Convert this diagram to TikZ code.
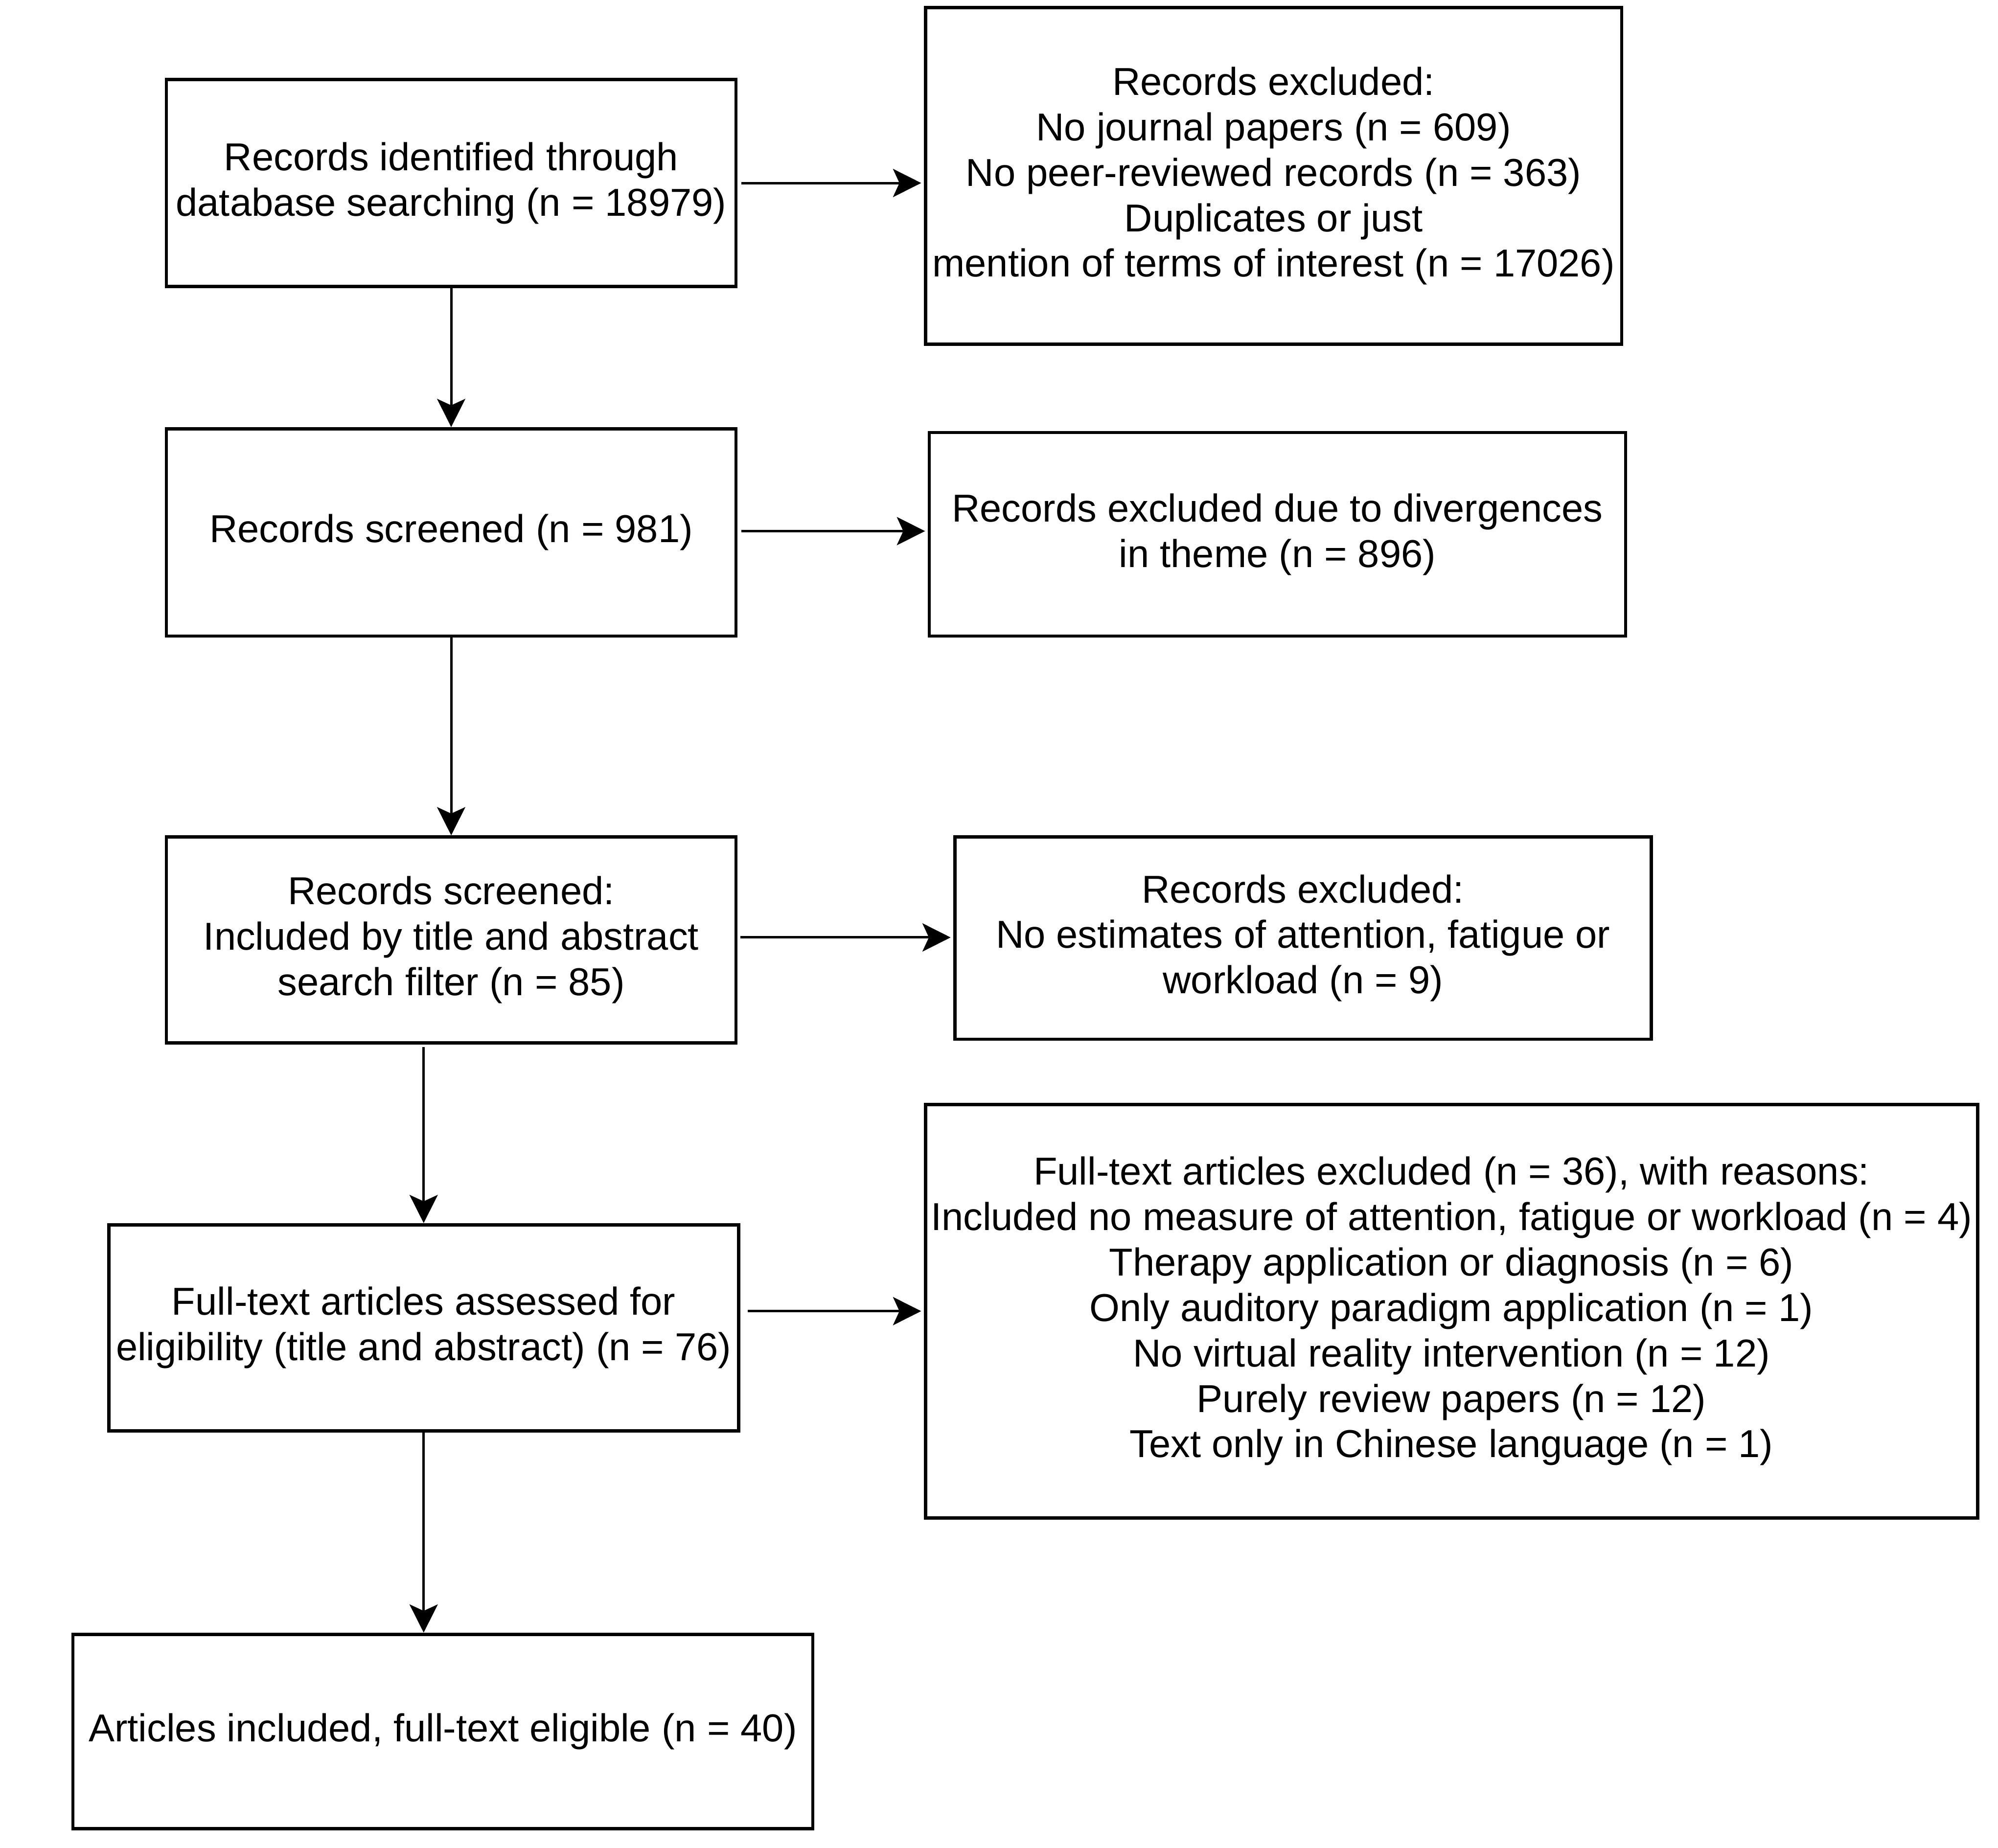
\documentclass[tikz,border=0pt]{standalone}
\usepackage{fontspec}
\setmainfont{Liberation Sans}
\usetikzlibrary{arrows.meta,calc}
\begin{document}
\begin{tikzpicture}[x=0.5pt,y=-0.5pt,
  box/.style={draw=black, line width=1.3pt, rectangle, inner sep=0pt, align=center,
    font=\fontsize{15.2}{17.75}\selectfont},
  conn/.style={line width=0.95pt, -{Stealth[length=11pt,width=11pt,inset=2.5pt]}}]
\useasboundingbox (0,0) rectangle (1561,1444);
\fill[white] (0,0) rectangle (1561,1444);

\node[box, minimum width=222.5pt, minimum height=81pt] (A) at (352.5,143)
  {Records identified through\\database searching (n = 18979)};
\node[box, minimum width=272pt, minimum height=131.5pt] (B) at (995,137.5)
  {Records excluded:\\No journal papers (n = 609)\\No peer-reviewed records (n = 363)\\Duplicates or just\\mention of terms of interest (n = 17026)};
\node[box, minimum width=222.5pt, minimum height=81pt] (C) at (352.5,416)
  {Records screened (n = 981)};
\node[box, minimum width=272pt, minimum height=79.5pt] (D) at (998,417.5)
  {Records excluded due to divergences\\in theme (n = 896)};
\node[box, minimum width=222.5pt, minimum height=80.5pt] (E) at (352.5,734.5)
  {Records screened:\\Included by title and abstract\\search filter (n = 85)};
\node[box, minimum width=272pt, minimum height=79pt] (F) at (1018,733)
  {Records excluded:\\No estimates of attention, fatigue or\\workload (n = 9)};
\node[box, minimum width=246pt, minimum height=80.5pt] (G) at (331,1037.5)
  {Full-text articles assessed for\\eligibility (title and abstract) (n = 76)};
\node[box, minimum width=411pt, minimum height=161.5pt] (H) at (1134,1024.5)
  {Full-text articles excluded (n = 36), with reasons:\\Included no measure of attention, fatigue or workload (n = 4)\\Therapy application or diagnosis (n = 6)\\Only auditory paradigm application (n = 1)\\No virtual reality intervention (n = 12)\\Purely review papers (n = 12)\\Text only in Chinese language (n = 1)};
\node[box, minimum width=289pt, minimum height=76pt] (I) at (346,1353)
  {Articles included, full-text eligible (n = 40)};

\draw[conn, shorten <=1.5pt, shorten >=1pt] (A.east) -- (A.east -| B.west);
\draw[conn] (A.south) -- (C.north);
\draw[conn, shorten <=1.5pt, shorten >=1pt] ($(C.east)+(0,-1)$) -- ($(C.east -| D.west)+(0,-1)$);
\draw[conn] (C.south) -- (E.north);
\draw[conn, shorten <=1pt, shorten >=1pt] ($(E.east)+(0,-2)$) -- ($(E.east -| F.west)+(0,-2)$);
\draw[conn, shorten <=1pt] (E.south -| G.north) -- (G.north);
\draw[conn, shorten <=3pt, shorten >=1pt] (H.west -| G.east) -- (H.west);
\draw[conn] (G.south) -- (G.south |- I.north);
\end{tikzpicture}
\end{document}
